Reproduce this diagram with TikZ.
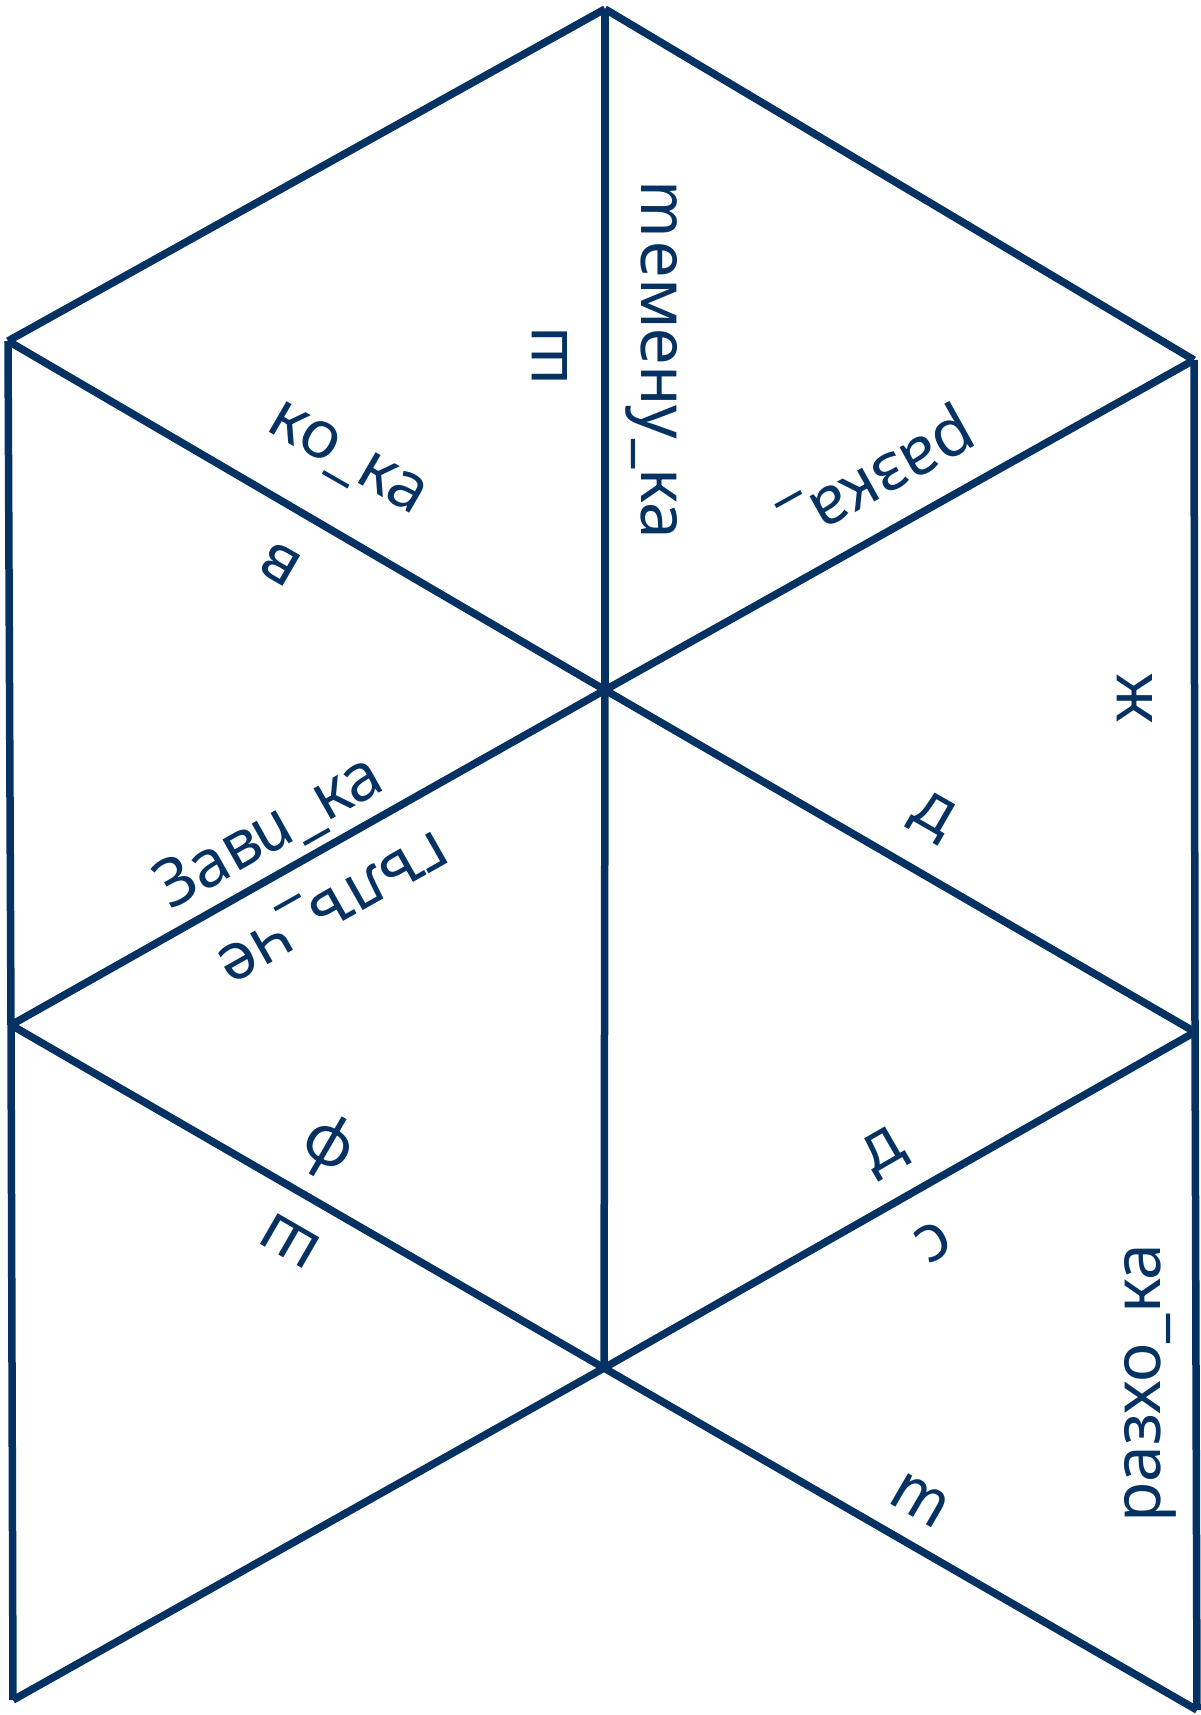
\documentclass[tikz,border=0pt]{standalone}
\usepackage{fontspec}
\setmainfont{Noto Sans}
\newfontfamily\bgfont[Script=Cyrillic,Language=Bulgarian]{Noto Sans}
\newfontfamily\bgit[Script=Cyrillic,ItalicFeatures={FakeSlant=-0.21}]{Noto Sans}
\newcommand{\cur}[1]{{\bgit\itshape #1}}
\definecolor{navy}{RGB}{5,50,98}
\begin{document}
\begin{tikzpicture}[x=1pt,y=-1pt,
  edge/.style={draw=navy,line width=7.5pt},
  lbl/.style={text=navy,inner sep=0pt,anchor=center,font=\bgfont\fontsize{66}{66}\selectfont}]
\useasboundingbox (0,0) rectangle (1200,1715);
% vertices
\coordinate (T) at (605,9);
\coordinate (UL) at (8,341);
\coordinate (UR) at (1194,360);
\coordinate (C1) at (605,690);
\coordinate (ML) at (11,1025);
\coordinate (MR) at (1195,1032);
\coordinate (C2) at (604,1368);
\coordinate (BL) at (13,1700);
\coordinate (BR) at (1197,1710);
% edges
\draw[edge] (T) -- (UL);
\draw[edge] (T) -- (UR);
\draw[edge] (T) -- (C1);
\draw[edge] (UL) -- (C1);
\draw[edge] (UR) -- (C1);
\draw[edge] (UL) -- (ML);
\draw[edge] (ML) -- (BL);
\draw[edge] (UR) -- (MR);
\draw[edge] (MR) -- (BR);
\draw[edge] (C1) -- (ML);
\draw[edge] (C1) -- (MR);
\draw[edge] (C1) -- (C2);
\draw[edge] (ML) -- (C2);
\draw[edge] (MR) -- (C2);
\draw[edge] (C2) -- (BL);
\draw[edge] (C2) -- (BR);
% labels
\node[lbl,rotate=90] (l1) at (550,356) {ш};
\node[lbl,rotate=-90] (l2) at (652,362) {\cur{т}емену\_ка};
\node[lbl,rotate=-30] (l3) at (346,461) {ко\_ка};
\node[lbl,rotate=150] (l4) at (281,565) {в};
\node[lbl,rotate=209] (l5) at (876,472) {разка\_};
\node[lbl,rotate=29.5] (l6) at (270,833) {Зав\cur{и}\_ка};
\node[lbl,rotate=209.5] (l7) at (331,903) {гълъ\_че};
\node[lbl,rotate=90] (l8) at (1135,698) {ж};
\node[lbl,rotate=-30] (l9) at (932,817) {д};
\node[lbl,rotate=-30] (l10) at (328,1147) {ф};
\node[lbl,rotate=150] (l11) at (290,1241) {ш};
\node[lbl,rotate=30] (l12) at (884,1153) {д};
\node[lbl,rotate=210] (l13) at (933,1242) {с};
\node[lbl,rotate=-30] (l14) at (923,1502) {\cur{т}};
\node[lbl,rotate=90] (l15) at (1150,1383) {разхо\_ка};
\end{tikzpicture}
\end{document}
